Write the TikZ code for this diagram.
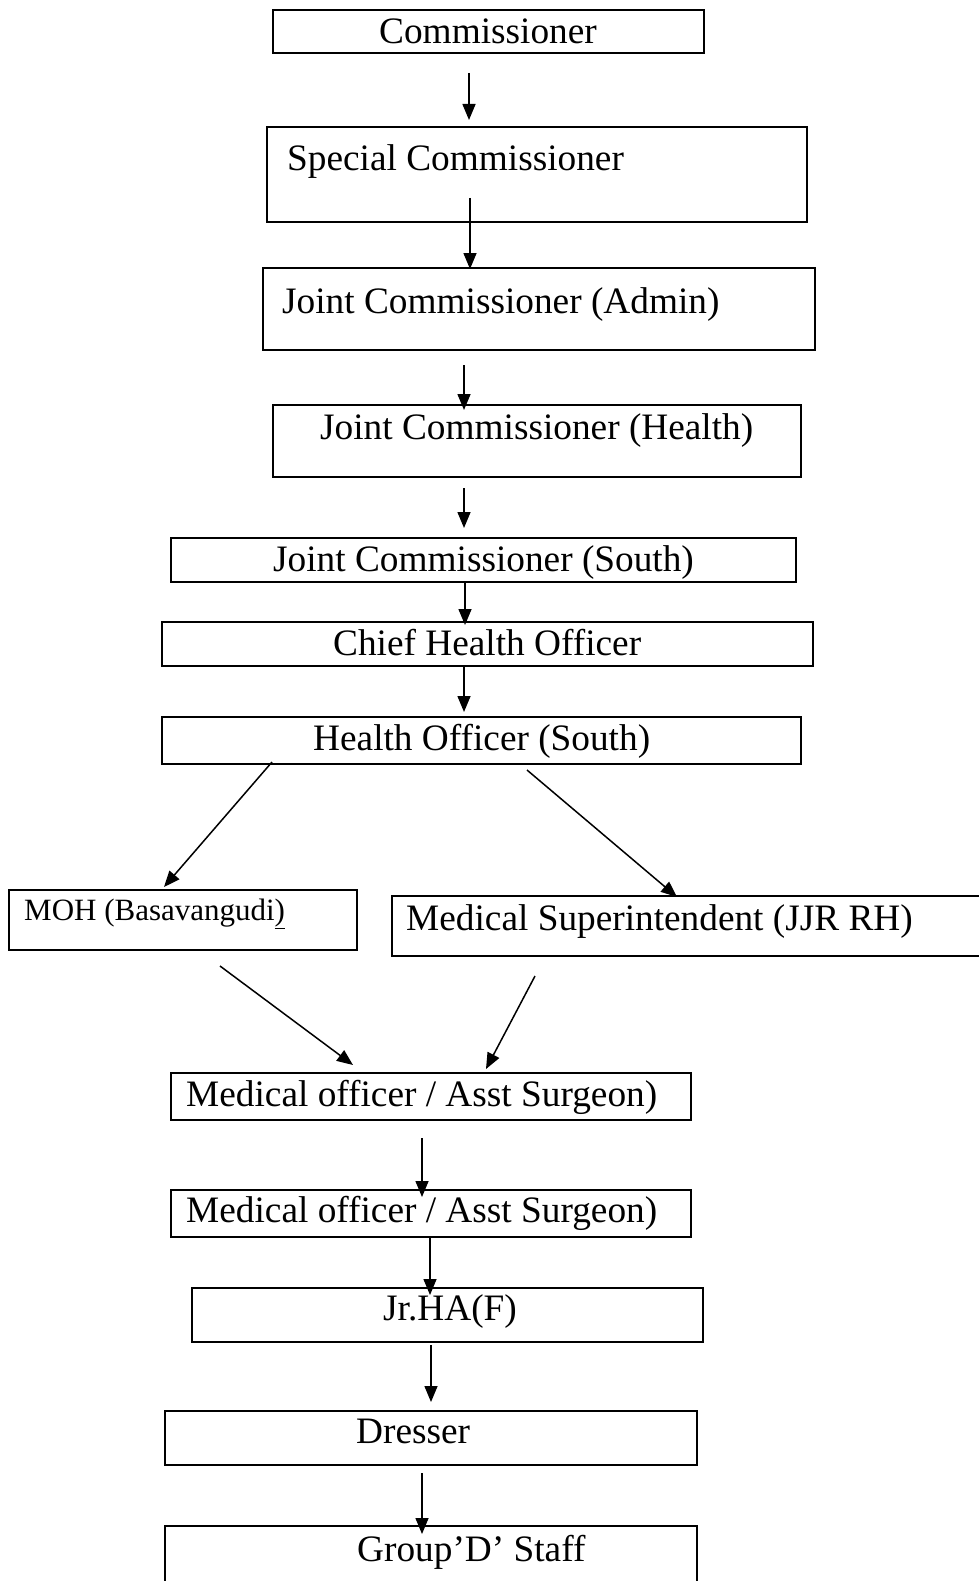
\documentclass[tikz,border=0pt]{standalone}
\usepackage{fontspec}
\setmainfont{Liberation Serif}
\usetikzlibrary{arrows.meta}
\tikzset{
  box/.style={draw=black, line width=1.8pt, inner sep=0pt, anchor=north west, fill=none},
  lbl/.style={anchor=base west, inner sep=0pt, font=\fontsize{37.3}{40}\selectfont},
  slbl/.style={anchor=base west, inner sep=0pt, font=\fontsize{31}{34}\selectfont},
  arr/.style={line width=1.5pt, -{Triangle[length=16pt,width=13pt]}}
}
\begin{document}
\begin{tikzpicture}[x=1pt,y=-1pt]
\useasboundingbox[fill=white] (0,0) rectangle (979,1581);
% boxes
\node[box, minimum width=431, minimum height=43] (c)   at (272,9) {};
\node[box, minimum width=540, minimum height=95] (sc)  at (266,126) {};
\node[box, minimum width=552, minimum height=82] (jca) at (262,267) {};
\node[box, minimum width=528, minimum height=72] (jch) at (272,404) {};
\node[box, minimum width=625, minimum height=44] (jcs) at (170,537) {};
\node[box, minimum width=651, minimum height=44] (cho) at (161,621) {};
\node[box, minimum width=639, minimum height=47] (hos) at (161,716) {};
\node[box, minimum width=348, minimum height=60] (moh) at (8,889) {};
\node[box, minimum width=610, minimum height=60] (ms)  at (391,895) {};
\node[box, minimum width=520, minimum height=47] (mo1) at (170,1072) {};
\node[box, minimum width=520, minimum height=47] (mo2) at (170,1189) {};
\node[box, minimum width=511, minimum height=54] (jr)  at (191,1287) {};
\node[box, minimum width=532, minimum height=54] (dr)  at (164,1410) {};
\node[box, minimum width=532, minimum height=80] (gd)  at (164,1525) {};
% texts
\node[lbl] (tc)   at (379,44)  {Commissioner};
\node[lbl] (tsc)  at (287,171) {Special Commissioner};
\node[lbl] (tjca) at (282,313) {Joint Commissioner (Admin)};
\node[lbl] (tjch) at (320,439) {Joint Commissioner (Health)};
\node[lbl] (tjcs) at (273,571) {Joint Commissioner (South)};
\node[lbl] (tcho) at (333,655) {Chief Health Officer};
\node[lbl] (thos) at (313,750) {Health Officer (South)};
\node[slbl] (tmoh) at (24,920) {MOH (Basavangudi\underline{)}};
\node[lbl] (tms)  at (406,930) {Medical Superintendent (JJR RH)};
\node[lbl] (tmo1) at (186,1106) {Medical officer / Asst Surgeon)};
\node[lbl] (tmo2) at (186,1222) {Medical officer / Asst Surgeon)};
\node[lbl] (tjr)  at (383,1320) {Jr.HA(F)};
\node[lbl] (tdr)  at (356,1443) {Dresser};
\node[lbl] (tgd)  at (357,1561) {Group’D’ Staff};
% connector end points
\coordinate (a1s) at (469,73);   \coordinate (a1e) at (469,120);
\coordinate (a2s) at (470,198);  \coordinate (a2e) at (470,269);
\coordinate (a3s) at (464,365);  \coordinate (a3e) at (464,410);
\coordinate (a4s) at (464,488);  \coordinate (a4e) at (464,528);
\coordinate (a5s) at (465,581);  \coordinate (a5e) at (465,625);
\coordinate (a6s) at (464,665);  \coordinate (a6e) at (464,712);
\coordinate (a7s) at (272,762);  \coordinate (a7e) at (164,887);
\coordinate (a8s) at (527,770);  \coordinate (a8e) at (677,897);
\coordinate (a9s) at (220,966);  \coordinate (a9e) at (353,1065);
\coordinate (a10s) at (535,976); \coordinate (a10e) at (486,1069);
\coordinate (a11s) at (422,1138); \coordinate (a11e) at (422,1197);
\coordinate (a12s) at (430,1237); \coordinate (a12e) at (430,1295);
\coordinate (a13s) at (431,1345); \coordinate (a13e) at (431,1402);
\coordinate (a14s) at (422,1473); \coordinate (a14e) at (422,1534);
% connectors
\draw[arr] (a1s) -- (a1e);
\draw[arr] (a2s) -- (a2e);
\draw[arr] (a3s) -- (a3e);
\draw[arr] (a4s) -- (a4e);
\draw[arr] (a5s) -- (a5e);
\draw[arr] (a6s) -- (a6e);
\draw[arr] (a7s) -- (a7e);
\draw[arr] (a8s) -- (a8e);
\draw[arr] (a9s) -- (a9e);
\draw[arr] (a10s) -- (a10e);
\draw[arr] (a11s) -- (a11e);
\draw[arr] (a12s) -- (a12e);
\draw[arr] (a13s) -- (a13e);
\draw[arr] (a14s) -- (a14e);
\end{tikzpicture}
\end{document}
